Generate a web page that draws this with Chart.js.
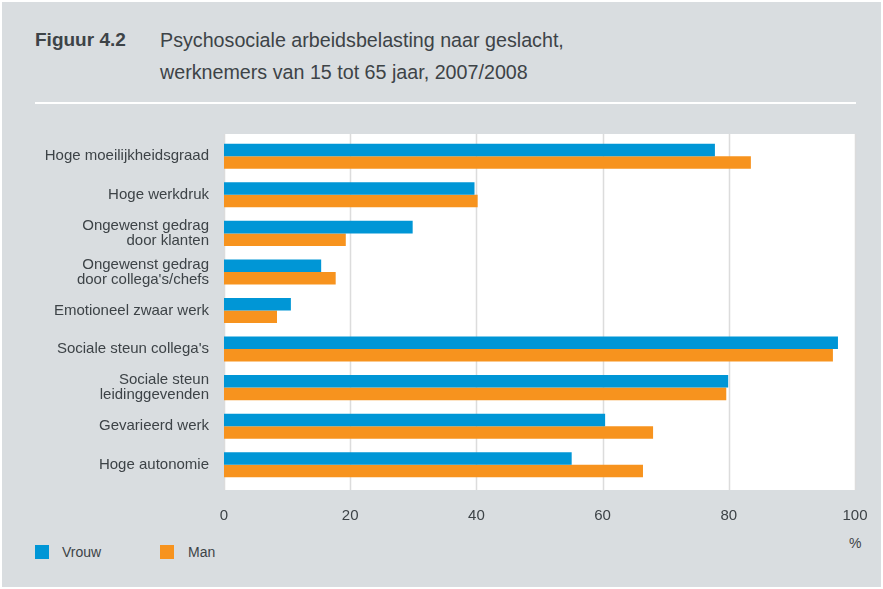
<!DOCTYPE html>
<html>
<head>
<meta charset="utf-8">
<script src="https://cdn.jsdelivr.net/npm/chart.js@4"></script>
<style>
  html, body { margin: 0; padding: 0; }
  body { width: 883px; height: 589px; background: #fff; position: relative; overflow: hidden; font-family: "Liberation Sans", Arial, sans-serif; color: #3d4347; }
  #panel { position: absolute; left: 2px; top: 2px; width: 879px; height: 585px; background: #d9dde0; }
  #chartBox { position: absolute; left: 0; top: 0; width: 883px; height: 589px; }
  .title { position: absolute; font-size: 19.7px; line-height: 32px; }
  #fig { left: 35px; top: 24px; font-weight: bold; font-size: 19px; }
  #sub { left: 160px; top: 24px; }
  #rule { position: absolute; left: 35px; top: 102px; width: 821px; height: 2px; background: #fff; }
  .leg { position: absolute; top: 544px; font-size: 14px; }
  .sw { position: absolute; top: 545px; width: 14px; height: 14px; }
  #pct { position: absolute; left: 849px; top: 535px; font-size: 14px; }
</style>
</head>
<body>
<div id="panel"></div>
<div class="title" id="fig">Figuur 4.2</div>
<div class="title" id="sub">Psychosociale arbeidsbelasting naar geslacht,<br>werknemers van 15 tot 65 jaar, 2007/2008</div>
<div id="rule"></div>
<div class="sw" style="left:35px;background:#0096d6"></div>
<div class="leg" style="left:62px">Vrouw</div>
<div class="sw" style="left:160px;background:#f7931e"></div>
<div class="leg" style="left:188px">Man</div>
<div id="pct">%</div>
<div id="chartBox"><canvas id="c" width="883" height="589"></canvas></div>
<script>
const categories = [
  'Hoge moeilijkheidsgraad',
  'Hoge werkdruk',
  ['Ongewenst gedrag', 'door klanten'],
  ['Ongewenst gedrag', "door collega's/chefs"],
  'Emotioneel zwaar werk',
  "Sociale steun collega's",
  ['Sociale steun', 'leidinggevenden'],
  'Gevarieerd werk',
  'Hoge autonomie'
];
const vrouw = [77.8, 39.7, 29.9, 15.4, 10.6, 97.3, 79.9, 60.4, 55.1];
const man = [83.5, 40.2, 19.3, 17.7, 8.4, 96.5, 79.6, 68.0, 66.4];
const xTicks = [0, 20, 40, 60, 80, 100];

// white plot panel a bit larger than the category bands, with grid lines across it
const plotBg = {
  id: 'plotBg',
  beforeDatasetsDraw(chart) {
    const a = chart.chartArea, ctx = chart.ctx, x = chart.scales.x;
    const top = a.top - 3, bottom = a.bottom + 6;
    ctx.save();
    ctx.fillStyle = '#fff';
    ctx.fillRect(a.left, top, a.right - a.left, bottom - top);
    ctx.strokeStyle = '#dcdcdc'; ctx.lineWidth = 1.5;
    xTicks.forEach(v => {
      const px = Math.round(x.getPixelForValue(v)) + 0.5;
      ctx.beginPath(); ctx.moveTo(px, top); ctx.lineTo(px, bottom); ctx.stroke();
    });
    ctx.restore();
  }
};

new Chart(document.getElementById('c'), {
  type: 'bar',
  data: {
    labels: categories,
    datasets: [
      { label: 'Vrouw', data: vrouw, backgroundColor: '#0096d6', categoryPercentage: 0.65, barPercentage: 1.0 },
      { label: 'Man', data: man, backgroundColor: '#f7931e', categoryPercentage: 0.65, barPercentage: 1.0 }
    ]
  },
  options: {
    indexAxis: 'y',
    responsive: false,
    animation: false,
    layout: { padding: { left: 0, top: 137, right: 28, bottom: 0 } },
    plugins: { legend: { display: false }, tooltip: { enabled: false } },
    scales: {
      x: {
        min: 0, max: 100,
        afterFit(s) { s.height = 105; s.paddingLeft = 0; s.paddingRight = 0; },
        afterBuildTicks(s) { s.ticks = xTicks.map(v => ({ value: v })); },
        grid: { display: false, drawTicks: false },
        border: { display: false },
        ticks: { padding: 23, color: '#3d4347', font: { family: 'Liberation Sans', size: 15 } }
      },
      y: {
        afterFit(s) { s.width = 224; s.paddingTop = 0; s.paddingBottom = 0; },
        grid: { display: false, drawTicks: false },
        border: { display: false },
        ticks: { padding: 15, color: '#3d4347', font: { family: 'Liberation Sans', size: 15, lineHeight: 1.0 } }
      }
    }
  },
  plugins: [plotBg]
});
</script>
</body>
</html>
